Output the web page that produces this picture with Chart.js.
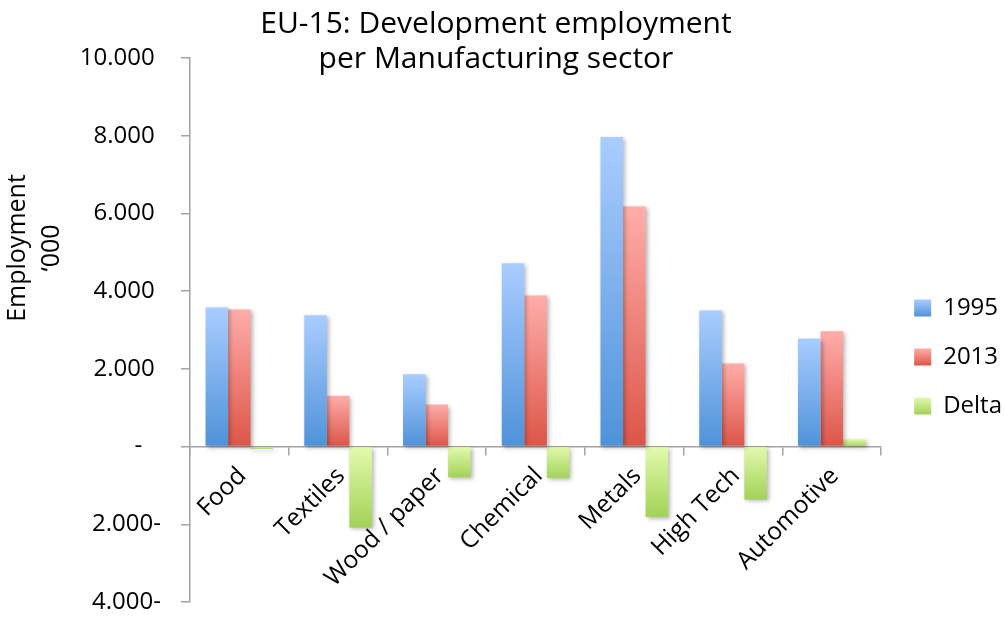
<!DOCTYPE html>
<html>
<head>
<meta charset="utf-8">
<script src="https://cdn.jsdelivr.net/npm/chart.js@4"></script>
<style>
  html, body { margin: 0; padding: 0; background: #fff; }
  #wrap { width: 1004px; height: 618px; position: relative; }
</style>
</head>
<body>
<div id="wrap"><canvas id="c" width="1004" height="618"></canvas></div>
<script>
// ---- data ----
const categories = ['Food', 'Textiles', 'Wood / paper', 'Chemical', 'Metals', 'High Tech', 'Automotive'];
const seriesNames = ['1995', '2013', 'Delta'];
const values1995 = [3580, 3380, 1860, 4720, 7970, 3505, 2780];
const values2013 = [3530, 1310, 1080, 3890, 6180, 2140, 2970];
const valuesDelta = [-55, -2080, -790, -810, -1810, -1360, 190];
const yTickValues = [-4000, -2000, 0, 2000, 4000, 6000, 8000, 10000];
const yTickLabels = ['4.000-', '2.000-', '-', '2.000', '4.000', '6.000', '8.000', '10.000'];
const chartTitle = ['EU-15: Development employment', 'per Manufacturing sector'];
const yAxisTitle = ['Employment', '\u2018000'];

// ---- styles ----
const FONT = "'Open Sans', sans-serif";
const palette = [
  { light: '#A9CDFF', dark: '#4F92D9' },
  { light: '#FFADAA', dark: '#DC5548' },
  { light: '#E3FAAE', dark: '#A2D257' }
];
const axisColor = '#A3A3A3';

Chart.defaults.font.family = FONT;
Chart.defaults.color = '#000';

function barGradient(p) {
  return (ctx) => {
    const chart = ctx.chart;
    const y = chart.scales && chart.scales.y;
    if (!y || ctx.type !== 'data') return p.dark;
    const p0 = y.getPixelForValue(0);
    const p1 = y.getPixelForValue(ctx.raw);
    if (!isFinite(p0) || !isFinite(p1)) return p.dark;
    const top = Math.min(p0, p1), bot = Math.max(p0, p1);
    if (bot - top < 1) return p.light;
    const g = chart.ctx.createLinearGradient(0, top, 0, bot);
    g.addColorStop(0, p.light);
    g.addColorStop(1, p.dark);
    return g;
  };
}

const seriesValues = [values1995, values2013, valuesDelta];
const datasets = seriesNames.map((name, i) => ({
  label: name,
  data: seriesValues[i],
  backgroundColor: barGradient(palette[i]),
  borderWidth: 0,
  barPercentage: 1.0,
  categoryPercentage: 0.685
}));

const shadowPlugin = {
  id: 'barShadow',
  beforeDatasetsDraw(chart) {
    const c = chart.ctx;
    c.save();
    c.shadowColor = 'rgba(0,0,0,0.28)';
    c.shadowBlur = 4;
    c.shadowOffsetX = 2;
    c.shadowOffsetY = 2;
  },
  afterDatasetsDraw(chart) { chart.ctx.restore(); }
};

const legendTweak = {
  id: 'legendTweak',
  afterLayout(chart) {
    const lg = chart.legend;
    if (lg) { lg.left += 8; lg.right += 8; }
  },
  beforeDraw(chart) {
    const lg = chart.legend;
    if (!lg || !lg.legendItems || !lg.legendHitBoxes) return;
    lg.legendItems.forEach((item, i) => {
      const hb = lg.legendHitBoxes[i];
      if (!hb) return;
      const top = hb.top + 3.5, bot = top + 17;
      const g = chart.ctx.createLinearGradient(0, top, 0, bot);
      g.addColorStop(0, palette[i].light);
      g.addColorStop(1, palette[i].dark);
      item.fillStyle = g;
    });
  }
};

const textPlugin = {
  id: 'texts',
  afterDraw(chart) {
    const c = chart.ctx;
    c.save();
    c.fillStyle = '#000';
    c.textAlign = 'center';
    c.textBaseline = 'alphabetic';
    c.font = "30px " + FONT;
    c.fillText(chartTitle[0], 496, 33);
    c.fillText(chartTitle[1], 496, 68);
    c.font = "25px " + FONT;
    const xs = [25, 59];
    yAxisTitle.forEach((t, i) => {
      c.save();
      c.translate(xs[i], 248);
      c.rotate(-Math.PI / 2);
      c.fillText(t, 0, 0);
      c.restore();
    });
    c.restore();
  }
};

new Chart(document.getElementById('c'), {
  type: 'bar',
  data: { labels: categories, datasets },
  plugins: [shadowPlugin, legendTweak, textPlugin],
  options: {
    responsive: false,
    animation: false,
    layout: { padding: { left: 0, top: 58, right: 0, bottom: 16 } },
    plugins: {
      title: { display: false },
      tooltip: { enabled: false },
      legend: {
        position: 'right',
        align: 'center',
        maxWidth: 124,
        title: { display: true, text: ' ', font: { size: 12 }, padding: { top: 39.6, bottom: 0 } },
        labels: {
          boxWidth: 17,
          boxHeight: 17,
          padding: 25,
          font: { size: 24 },
          color: '#000'
        }
      }
    },
    scales: {
      x: {
        position: { y: 0 },
        grid: {
          display: true, drawOnChartArea: false, drawTicks: true,
          tickLength: 8, color: axisColor, lineWidth: 1.5, offset: true
        },
        border: { display: true, color: axisColor, width: 1.5 },
        ticks: {
          autoSkip: false, minRotation: 45, maxRotation: 45,
          padding: 7, labelOffset: 3,
          font: { size: 24.5 }, color: '#000'
        }
      },
      y: {
        min: -4000, max: 10000,
        afterFit(scale) { scale.width = 190; scale.paddingTop = 0; scale.paddingBottom = 0; },
        afterBuildTicks(scale) { scale.ticks = yTickValues.map(v => ({ value: v })); },
        grid: {
          display: true, drawOnChartArea: false, drawTicks: true,
          tickLength: 9, color: axisColor, lineWidth: 1.5
        },
        border: { display: true, color: axisColor, width: 1.5 },
        ticks: {
          padding: 20,
          font: { size: 24 }, color: '#000',
          callback(value) {
            const i = yTickValues.indexOf(value);
            const lab = i >= 0 ? yTickLabels[i] : '';
            if (value > 0) return lab + ' ';
            if (value === 0) return lab + '   ';
            return lab;
          }
        }
      }
    }
  }
});
</script>
</body>
</html>
